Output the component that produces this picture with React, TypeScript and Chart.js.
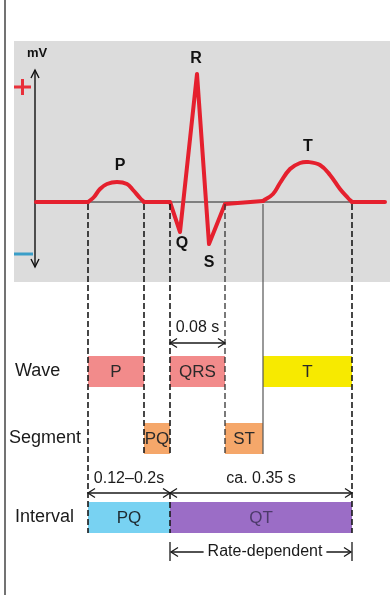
import React, { useEffect, useRef } from "react";
import { Chart, registerables } from "chart.js";

Chart.register(...registerables);

// ---- ECG trace (time in ms, amplitude in mV) ----
// straight parts (null = break in the line where a rounded wave is drawn)
const straightTime = [44, 148, 200, 260, 312, 332, 366, 390, 422, 498, 600, 676, 742];
const straightMv: (number | null)[] = [0, 0, null, 0, 0, -0.3, 1.28, -0.42, -0.02, 0.01, null, 0, 0];
// rounded P wave
const pWaveTime = [148, 160, 172, 186, 206, 226, 238, 252, 260];
const pWaveMv = [0, 0.05, 0.13, 0.18, 0.2, 0.18, 0.12, 0.04, 0];
// rounded T wave
const tWaveTime = [498, 518, 532, 552, 572, 588, 612, 632, 652, 668, 676];
const tWaveMv = [0.01, 0.08, 0.19, 0.33, 0.39, 0.4, 0.37, 0.27, 0.13, 0.04, 0];

// ---- wave labels (name, time, mV of the extremum) ----
const peakNames = ["P", "Q", "R", "S", "T"];
const peakTime = [206, 332, 366, 390, 588];
const peakMv = [0.2, -0.3, 1.28, -0.42, 0.4];

// ---- rows ----
const waveNames = ["P", "QRS", "T"];
const waveStart = [148, 312, 498];
const waveEnd = [260, 422, 676];
const segmentNames = ["PQ", "ST"];
const segmentStart = [260, 422];
const segmentEnd = [312, 498];
const intervalNames = ["PQ", "QT"];
const intervalStart = [148, 312];
const intervalEnd = [312, 676];
const rowLabels = ["Wave", "Segment", "Interval"];
const qrsDurationLabel = "0.08 s";
const intervalDurationLabels = ["0.12–0.2s", "ca. 0.35 s"];
const rateLabel = "Rate-dependent";

const FONT = "'Liberation Sans', Arial, Helvetica, sans-serif";
const RED = "#e5202e";

function ds(time: number[], mv: (number | null)[], tension: number) {
  return {
    data: time.map((t, i) => ({ x: t, y: mv[i] })),
    borderColor: RED,
    borderWidth: 4,
    pointRadius: 0,
    borderJoinStyle: "round" as const,
    borderCapStyle: "round" as const,
    tension,
    spanGaps: false,
    fill: false,
  };
}

function arrowHead(ctx: CanvasRenderingContext2D, x: number, y: number, dir: number) {
  ctx.beginPath();
  ctx.moveTo(x - dir * 7, y - 4.5);
  ctx.lineTo(x, y);
  ctx.lineTo(x - dir * 7, y + 4.5);
  ctx.stroke();
}

function dArrow(ctx: CanvasRenderingContext2D, x1: number, x2: number, y: number) {
  ctx.beginPath();
  ctx.moveTo(x1, y);
  ctx.lineTo(x2, y);
  ctx.stroke();
  arrowHead(ctx, x1, y, -1);
  arrowHead(ctx, x2, y, 1);
}

const diagramPlugin = {
  id: "diagram",
  beforeDraw(chart: any) {
    const { ctx, chartArea: a, width, height } = chart;
    ctx.save();
    ctx.fillStyle = "#ffffff";
    ctx.fillRect(0, 0, width, height);
    ctx.fillStyle = "#dcdcdc";
    ctx.fillRect(a.left, a.top, a.right - a.left, a.bottom - a.top);
    ctx.strokeStyle = "#444";
    ctx.lineWidth = 1.5;
    ctx.beginPath();
    ctx.moveTo(5, 0);
    ctx.lineTo(5, height);
    ctx.stroke();
    ctx.restore();
  },
  beforeDatasetsDraw(chart: any) {
    const { ctx } = chart;
    const xs = chart.scales.x;
    const ys = chart.scales.y;
    const y0 = ys.getPixelForValue(0);
    ctx.save();
    const ax = 35;
    const top = ys.getPixelForValue(1.32);
    const bot = ys.getPixelForValue(-0.65);
    ctx.strokeStyle = "#111";
    ctx.lineWidth = 1.4;
    ctx.beginPath();
    ctx.moveTo(ax, top);
    ctx.lineTo(ax, bot);
    ctx.stroke();
    ctx.beginPath();
    ctx.moveTo(ax - 4, top + 8);
    ctx.lineTo(ax, top);
    ctx.lineTo(ax + 4, top + 8);
    ctx.moveTo(ax - 4, bot - 8);
    ctx.lineTo(ax, bot);
    ctx.lineTo(ax + 4, bot - 8);
    ctx.stroke();
    ctx.fillStyle = "#111";
    ctx.font = `bold 13px ${FONT}`;
    ctx.textAlign = "center";
    ctx.textBaseline = "middle";
    ctx.fillText("mV", 37, 53);
    ctx.strokeStyle = "#e8303a";
    ctx.lineWidth = 3;
    ctx.beginPath();
    ctx.moveTo(14, 87);
    ctx.lineTo(31, 87);
    ctx.moveTo(22.5, 79);
    ctx.lineTo(22.5, 95);
    ctx.stroke();
    ctx.strokeStyle = "#3a9ec8";
    ctx.beginPath();
    ctx.moveTo(14, 254);
    ctx.lineTo(33, 254);
    ctx.stroke();
    ctx.strokeStyle = "#222";
    ctx.lineWidth = 1;
    ctx.beginPath();
    ctx.moveTo(xs.getPixelForValue(waveStart[0]), y0);
    ctx.lineTo(xs.getPixelForValue(waveEnd[2]), y0);
    ctx.stroke();
    ctx.restore();
  },
  afterDatasetsDraw(chart: any) {
    const { ctx } = chart;
    const xs = chart.scales.x;
    const ys = chart.scales.y;
    const X = (t: number) => xs.getPixelForValue(t);
    const y0 = ys.getPixelForValue(0);
    ctx.save();
    ctx.fillStyle = "#111";
    ctx.font = `bold 16px ${FONT}`;
    ctx.textAlign = "center";
    ctx.textBaseline = "middle";
    const offs = [-16, 12, -15, 19, -15];
    const dx = [3, 2, -1, 0, 0];
    peakNames.forEach((n, i) => {
      ctx.fillText(n, X(peakTime[i]) + dx[i], ys.getPixelForValue(peakMv[i]) + offs[i]);
    });

    const rowWave = { top: 356, h: 31 };
    const rowSeg = { top: 423, h: 31 };
    const rowInt = { top: 502, h: 31 };

    const box = (s: number, e: number, r: { top: number; h: number }, fill: string, label: string, color: string) => {
      ctx.fillStyle = fill;
      ctx.fillRect(X(s), r.top, X(e) - X(s), r.h);
      ctx.fillStyle = color;
      ctx.font = `17px ${FONT}`;
      ctx.textAlign = "center";
      ctx.textBaseline = "middle";
      ctx.fillText(label, (X(s) + X(e)) / 2, r.top + r.h / 2 + 1);
    };
    const waveFill = ["#f28b8b", "#f28b8b", "#f7ea00"];
    waveNames.forEach((n, i) => box(waveStart[i], waveEnd[i], rowWave, waveFill[i], n, "#2a2a2a"));
    segmentNames.forEach((n, i) => box(segmentStart[i], segmentEnd[i], rowSeg, "#f5a76a", n, "#2a2a2a"));
    const intFill = ["#78d2f2", "#9b6dc6"];
    const intText = ["#1e2a30", "#4c3a6a"];
    intervalNames.forEach((n, i) => box(intervalStart[i], intervalEnd[i], rowInt, intFill[i], n, intText[i]));

    ctx.fillStyle = "#1a1a1a";
    ctx.font = `18px ${FONT}`;
    ctx.textAlign = "left";
    ctx.textBaseline = "middle";
    ctx.fillText(rowLabels[0], 15, rowWave.top + rowWave.h / 2);
    ctx.fillText(rowLabels[1], 9, rowSeg.top + rowSeg.h / 2);
    ctx.fillText(rowLabels[2], 15, rowInt.top + rowInt.h / 2);

    const segBot = rowSeg.top + rowSeg.h;
    const intBot = rowInt.top + rowInt.h;
    const vline = (t: number, ya: number, yb: number, dashed: boolean, color = "#1a1a1a", w = 1.6) => {
      ctx.strokeStyle = color;
      ctx.lineWidth = w;
      ctx.setLineDash(dashed ? [6, 3] : []);
      ctx.beginPath();
      ctx.moveTo(X(t), ya);
      ctx.lineTo(X(t), yb);
      ctx.stroke();
    };
    const yStart = y0 + 2;
    vline(waveStart[0], yStart, intBot, true);
    vline(waveEnd[0], yStart, segBot, true);
    vline(waveStart[1], yStart, segBot, true);
    vline(waveStart[1], 493, intBot, true);
    vline(waveEnd[1], yStart, segBot, true, "#333", 1.3);
    vline(waveStart[2], yStart, segBot, false, "#555", 1.2);
    vline(waveEnd[2], yStart, intBot, true);
    ctx.setLineDash([]);

    ctx.strokeStyle = "#1a1a1a";
    ctx.lineWidth = 1.3;
    ctx.fillStyle = "#1a1a1a";
    ctx.font = `16px ${FONT}`;
    ctx.textAlign = "center";
    ctx.textBaseline = "middle";
    dArrow(ctx, X(waveStart[1]), X(waveEnd[1]), 343);
    ctx.fillText(qrsDurationLabel, (X(waveStart[1]) + X(waveEnd[1])) / 2, 328);
    intervalNames.forEach((_, i) => {
      dArrow(ctx, X(intervalStart[i]), X(intervalEnd[i]), 493);
      ctx.fillText(intervalDurationLabels[i], (X(intervalStart[i]) + X(intervalEnd[i])) / 2, 479);
    });

    const ra = X(intervalStart[1]);
    const rb = X(intervalEnd[1]);
    const ry = 552;
    ctx.beginPath();
    ctx.moveTo(ra, 542);
    ctx.lineTo(ra, 561);
    ctx.moveTo(rb, 542);
    ctx.lineTo(rb, 561);
    ctx.stroke();
    const cx = (ra + rb) / 2 + 4;
    const tw = ctx.measureText(rateLabel).width;
    ctx.beginPath();
    ctx.moveTo(ra + 1, ry);
    ctx.lineTo(cx - tw / 2 - 4, ry);
    ctx.moveTo(cx + tw / 2 + 4, ry);
    ctx.lineTo(rb - 1, ry);
    ctx.stroke();
    arrowHead(ctx, ra + 1, ry, -1);
    arrowHead(ctx, rb - 1, ry, 1);
    ctx.fillText(rateLabel, cx, ry);
    ctx.restore();
  },
};

export default function App() {
  const ref = useRef<HTMLCanvasElement | null>(null);
  useEffect(() => {
    if (!ref.current) return;
    const chart = new Chart(ref.current, {
      type: "line",
      data: {
        datasets: [
          ds(straightTime, straightMv, 0),
          ds(pWaveTime, pWaveMv, 0.4),
          ds(tWaveTime, tWaveMv, 0.4),
        ] as any,
      },
      options: {
        responsive: false,
        animation: false,
        devicePixelRatio: 1,
        layout: { padding: { left: 14, top: 41, right: 0, bottom: 313 } },
        plugins: { legend: { display: false }, tooltip: { enabled: false } },
        scales: {
          x: { type: "linear", min: 0, max: 752, display: false },
          y: { type: "linear", min: -0.8, max: 1.61, display: false },
        },
      },
      plugins: [diagramPlugin],
    });
    return () => chart.destroy();
  }, []);
  return (
    <div style={{ position: "fixed", left: 0, top: 0, width: 390, height: 595, background: "#fff" }}>
      <canvas ref={ref} width={390} height={595} style={{ width: 390, height: 595, display: "block" }} />
    </div>
  );
}
